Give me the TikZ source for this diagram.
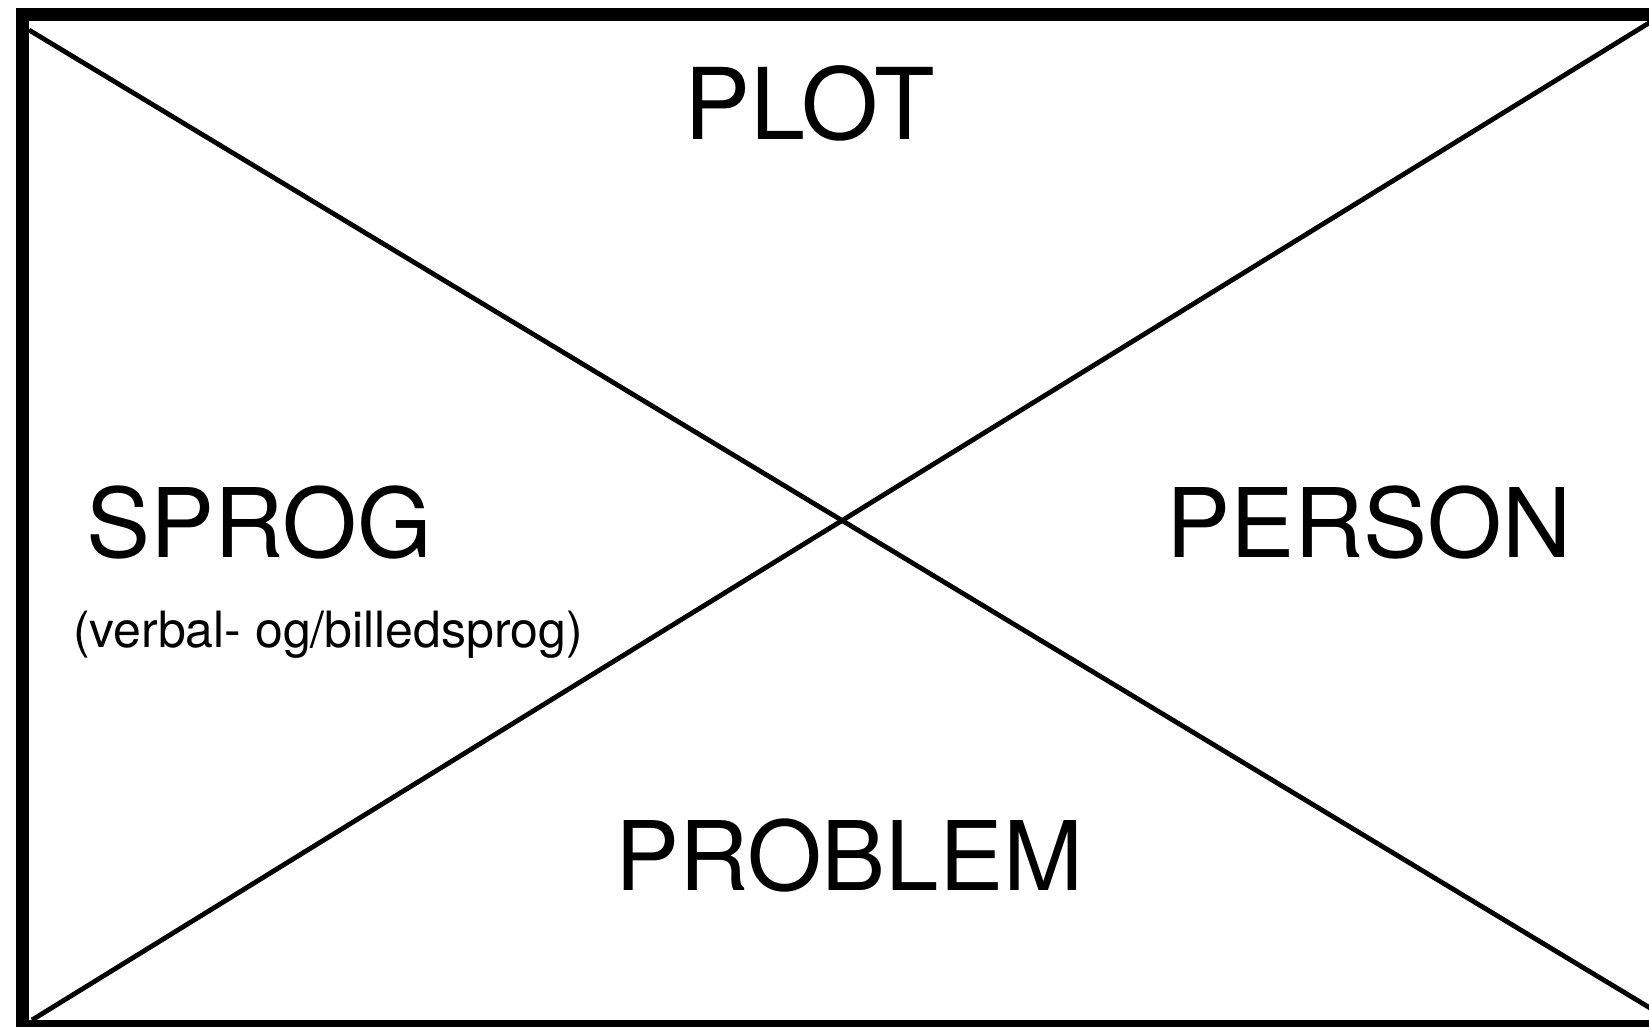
\documentclass[tikz,border=0pt]{standalone}
\usepackage{fontspec}
\setmainfont{TeX Gyre Heros}

\begin{document}
\begin{tikzpicture}[x=0.5pt, y=-0.5pt, inner sep=0pt,
    field/.style={anchor=base, font=\fontsize{48}{58}\selectfont},
    note/.style={anchor=base, font=\fontsize{25}{30}\selectfont}]
    \useasboundingbox (0,0) rectangle (1649,1027);

    \coordinate (tl) at (29,30);
    \coordinate (bl) at (32,1020);
    \coordinate (tr) at (1670,10);
    \coordinate (br) at (1670,1020);

    % frame, open on the right
    \draw[line width=6.5pt] (1670,14.5) -- (22.5,14.5) -- (22.5,1026.5) -- (1670,1026.5);
    \draw[line width=2.4pt] (tl) -- (br);
    \draw[line width=2.4pt] (bl) -- (tr);

    \node [field] (plot) at (810,140) {\fontsize{49.5}{58}\selectfont PLOT};
    \node [field,anchor=base west] (sprog) at (86,557) {SPROG};
    \node [field] (person) at (1369,557) {PERSON};
    \node [field] (problem) at (849,890) {PROBLEM};
    \node [note] (sprognote) at (328,647) {(verbal- og/billedsprog)};
\end{tikzpicture}
\end{document}
